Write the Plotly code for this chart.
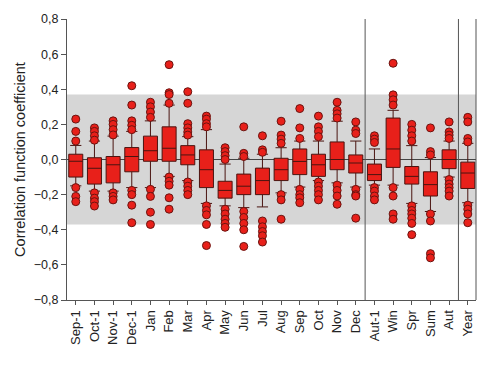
import plotly.graph_objects as go

categories = ["Sep-1", "Oct-1", "Nov-1", "Dec-1", "Jan", "Feb", "Mar", "Apr", "May", "Jun", "Jul",
              "Aug", "Sep", "Oct", "Nov", "Dec", "Aut-1", "Win", "Spr", "Sum", "Aut", "Year"]

q3 = [0.03, 0.01, 0.017, 0.068, 0.133, 0.186, 0.079, 0.055, -0.124, -0.083, -0.049,
      0.007, 0.06, 0.03, 0.10, 0.026, -0.026, 0.236, -0.04, -0.07, 0.055, -0.015]
median = [-0.01, -0.05, -0.03, 0.017, 0.05, 0.064, 0.026, -0.058, -0.176, -0.152, -0.12,
          -0.058, -0.011, -0.03, 0.0, -0.02, -0.086, 0.06, -0.096, -0.143, 0.0, -0.077]
q1 = [-0.10, -0.14, -0.133, -0.07, -0.01, -0.01, -0.03, -0.16, -0.22, -0.20, -0.20,
      -0.12, -0.086, -0.096, -0.058, -0.077, -0.12, -0.045, -0.14, -0.208, -0.052, -0.165]
upper_whisker = [0.08, 0.105, 0.133, 0.16, 0.22, 0.31, 0.13, 0.17, -0.026, 0.007, 0.03,
                 0.067, 0.105, 0.105, 0.218, 0.105, 0.06, 0.28, 0.079, 0.011, 0.105, 0.092]
lower_whisker = [-0.15, -0.18, -0.18, -0.16, -0.16, -0.096, -0.12, -0.25, -0.264, -0.274, -0.27,
                 -0.19, -0.157, -0.12, -0.133, -0.157, -0.146, -0.146, -0.25, -0.296, -0.10, -0.246]
outliers = [
    [0.23, 0.16, 0.105, -0.16, -0.21, -0.24],
    [0.18, 0.16, 0.135, 0.11, -0.19, -0.22, -0.24, -0.265],
    [0.22, 0.20, 0.17, 0.14, -0.19, -0.21, -0.23],
    [0.42, 0.31, 0.22, 0.195, 0.17, -0.176, -0.20, -0.26, -0.36],
    [0.326, 0.30, 0.27, 0.24, -0.17, -0.21, -0.30, -0.37],
    [0.54, 0.38, 0.37, 0.32, -0.10, -0.124, -0.146, -0.218, -0.283],
    [0.386, 0.32, 0.204, 0.18, 0.157, 0.139, -0.128, -0.152, -0.176, -0.20],
    [0.247, 0.23, 0.204, 0.186, -0.264, -0.29, -0.315, -0.37, -0.49],
    [0.067, 0.045, 0.022, 0.0, -0.283, -0.31, -0.34, -0.364, -0.386],
    [0.186, 0.035, 0.017, -0.296, -0.33, -0.364, -0.40, -0.495],
    [0.135, 0.055, 0.041, -0.35, -0.383, -0.41, -0.434, -0.47],
    [0.218, 0.139, 0.116, 0.092, -0.20, -0.23, -0.34],
    [0.29, 0.18, 0.12, -0.17, -0.20, -0.218, -0.246],
    [0.247, 0.186, 0.16, 0.13, -0.128, -0.152, -0.176, -0.20, -0.23],
    [0.326, 0.28, 0.26, 0.236, -0.146, -0.176, -0.208, -0.255],
    [0.214, 0.167, 0.148, -0.17, -0.20, -0.208, -0.334],
    [0.135, 0.116, 0.097, -0.16, -0.18, -0.208, -0.23],
    [0.548, 0.368, 0.34, 0.31, -0.16, -0.208, -0.31, -0.34],
    [0.20, 0.167, 0.135, 0.105, -0.264, -0.29, -0.31, -0.334, -0.364, -0.428],
    [0.18, 0.045, 0.026, -0.31, -0.35, -0.536, -0.56],
    [0.214, 0.157, 0.139, 0.12, -0.114, -0.14, -0.16, -0.18, -0.208],
    [0.24, 0.214, 0.12, 0.10, -0.26, -0.283, -0.31, -0.36],
]
band_low, band_high = -0.37, 0.37
separators_after = ["Dec", "Aut"]

pos = list(range(len(categories)))
fig = go.Figure()

fig.add_trace(go.Box(
    x=pos, q1=q1, median=median, q3=q3,
    lowerfence=lower_whisker, upperfence=upper_whisker,
    width=0.75, whiskerwidth=0.8,
    fillcolor="#e8201a", line=dict(color="#4a1410", width=1),
    boxpoints=False, showlegend=False,
))

ox, oy = [], []
for i, vals in enumerate(outliers):
    for v in vals:
        ox.append(i)
        oy.append(v)
fig.add_trace(go.Scatter(
    x=ox, y=oy, mode="markers", showlegend=False,
    marker=dict(size=8, color="#e8201a", line=dict(color="#6a1410", width=1)),
))

shapes = [
    dict(type="rect", xref="paper", yref="y", x0=0, x1=1, y0=band_low, y1=band_high,
         fillcolor="#d6d6d6", line=dict(width=0), layer="below"),
    dict(type="line", xref="paper", yref="y", x0=0, x1=1, y0=0, y1=0,
         line=dict(color="#444444", width=1), layer="below"),
    dict(type="line", xref="paper", yref="paper", x0=1, x1=1, y0=0, y1=1,
         line=dict(color="#555555", width=1)),
]
for name in separators_after:
    i = categories.index(name)
    shapes.append(dict(type="line", xref="x", yref="paper", x0=i + 0.5, x1=i + 0.5, y0=0, y1=1,
                       line=dict(color="#555555", width=1)))

fig.update_layout(
    width=490, height=370,
    margin=dict(l=67, r=14, t=16, b=70),
    paper_bgcolor="white", plot_bgcolor="white",
    separators=",.",
    font=dict(family="Liberation Sans, Arial, sans-serif", size=12, color="#222222"),
    shapes=shapes,
    xaxis=dict(
        range=[-0.47, len(categories) - 1 + 0.44],
        tickmode="array", tickvals=pos, ticktext=categories,
        tickangle=-90, ticks="outside", ticklen=4, tickcolor="#555555",
        showline=True, linecolor="#555555", linewidth=1,
        showgrid=False, zeroline=False,
        tickfont=dict(size=13, color="#222222"),
    ),
    yaxis=dict(
        range=[-0.8, 0.8], dtick=0.2, tickformat=".1f",
        ticks="outside", ticklen=5, tickcolor="#555555",
        showline=True, linecolor="#555555", linewidth=1,
        showgrid=False, zeroline=False,
        tickfont=dict(size=12.5, color="#222222"),
        title=dict(text="Correlation function coefficient", font=dict(size=14.5, color="#222222"), standoff=4),
    ),
)

fig.write_html("out.html")
